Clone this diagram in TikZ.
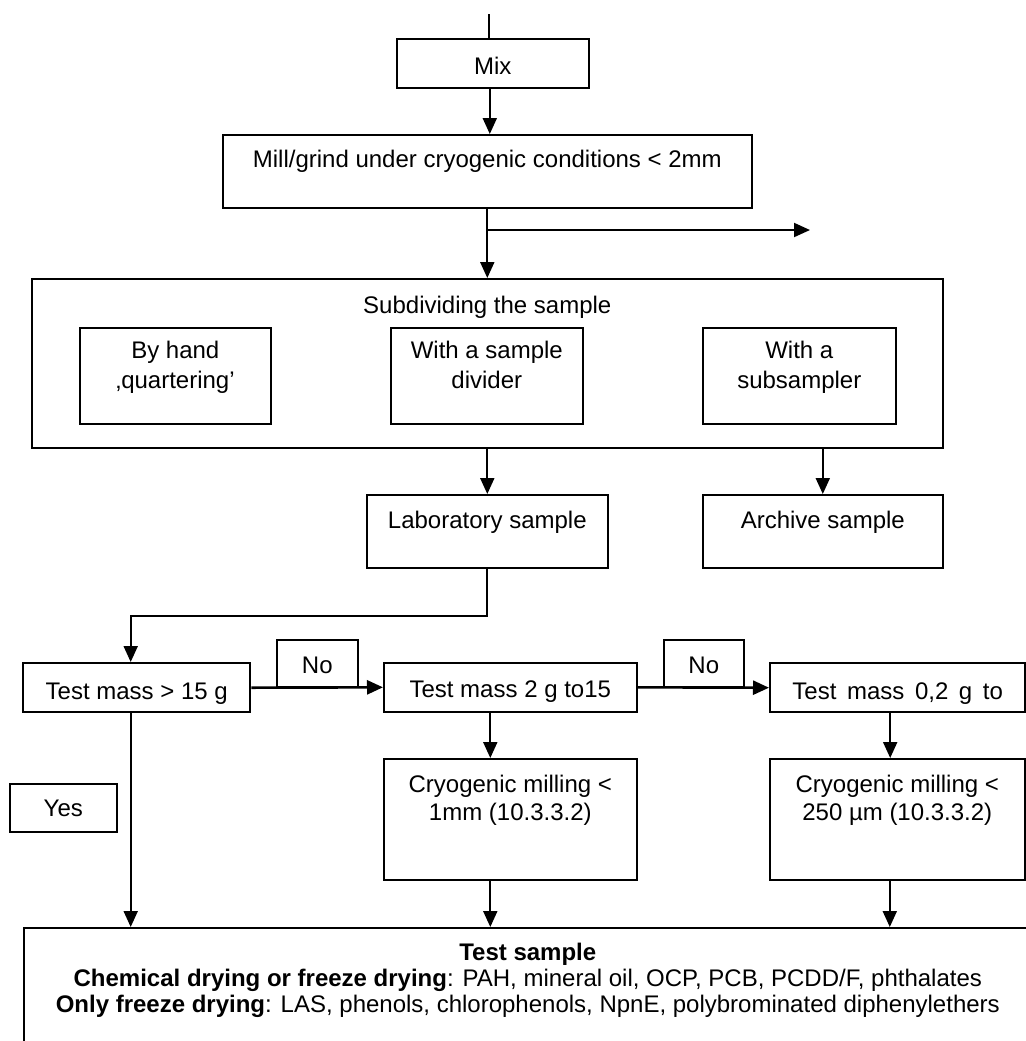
\documentclass[tikz,border=0pt]{standalone}
\usepackage{fontspec}
\setmainfont{Liberation Sans}
\usetikzlibrary{arrows.meta}
\tikzset{
    box/.style={draw, line width=0.8pt, inner sep=0pt, align=center, anchor=north west},
    massbox/.style={box, line width=1.2pt},
    arr/.style={-{Triangle[length=8pt,width=7pt]}, line width=1pt},
}
\begin{document}
\begin{tikzpicture}[x=0.5pt,y=-0.5pt,every node/.style={font=\fontsize{12pt}{14pt}\selectfont}]
            \useasboundingbox (0,0) rectangle (1026,1041);
            \clip (0,0) rectangle (1026,1041);
            \node[box, minimum width=96pt, text height=18pt, text depth=6.5pt] at (396,38) (mix) {Mix};
            \node[box, minimum width=264.5pt, text height=16.5pt, text depth=20pt] at (222,134) (mill) {Mill/grind under cryogenic conditions < 2mm};
            \node[box, minimum width=455.5pt, text height=17.5pt, text depth=67pt] at (31,278) (subdiv) {Subdividing the sample};
            % two-line boxes: text height runs to the last baseline
            \node[box, minimum width=95.5pt, text height=30.5pt, text depth=17.5pt, font=\fontsize{12pt}{15pt}\selectfont] at (79,327) (byhand) {By hand\\‚quartering’};
            \node[box, minimum width=96pt, text height=30.5pt, text depth=17.5pt, font=\fontsize{12pt}{15pt}\selectfont] at (390,327) (divider) {With a sample\\divider};
            \node[box, minimum width=96.5pt, text height=30.5pt, text depth=17.5pt, font=\fontsize{12pt}{15pt}\selectfont] at (702,327) (subsampler) {With a\\subsampler};
            \node[box, minimum width=120.5pt, text height=17pt, text depth=19.5pt] at (366,494) (lab) {Laboratory sample};
            \node[box, minimum width=120pt, text height=17pt, text depth=19.5pt] at (702,494) (archive) {Archive sample};
            \node[massbox, minimum width=113.5pt, text height=18pt, text depth=6.5pt] at (22,662) (mass15) {Test mass > 15 g};
            \node[box, minimum width=40.5pt, text height=17pt, text depth=6.5pt] at (276,639) (no1) {No};
            \node[box, minimum width=126.5pt, text height=17.5pt, text depth=7pt] at (383,662) (mass2) {Test mass 2 g to15};
            \node[box, minimum width=40pt, text height=17pt, text depth=6.5pt] at (663,639) (no2) {No};
            \node[massbox, minimum width=127.5pt, text height=18pt, text depth=6.5pt] at (769,662) (mass02) {{\spaceskip=5.3pt Test mass 0,2 g to}};
            \node[box, minimum width=126.5pt, text height=31pt, text depth=29.5pt] at (383,758) (cryo1) {Cryogenic milling <\\1mm (10.3.3.2)};
            \node[box, minimum width=127.5pt, text height=31pt, text depth=29.5pt] at (769,758) (cryo2) {Cryogenic milling <\\250 µm (10.3.3.2)};
            \node[box, minimum width=53.5pt, text height=16.5pt, text depth=7.5pt] at (9,783) (yes) {Yes};
            \node[box, minimum width=504pt, text height=42.5pt, text depth=24pt, font=\fontsize{12pt}{13pt}\selectfont] at (23,927) (testsample) {\textbf{Test sample}\\\textbf{Chemical drying or freeze drying}: PAH, mineral oil, OCP, PCB, PCDD/F, phthalates\\\textbf{Only freeze drying}: LAS, phenols, chlorophenols, NpnE, polybrominated diphenylethers};
            \coordinate (inlet) at (489,14);
            \coordinate (aside) at (810,230);
            \draw[line width=1pt] (inlet) -- (inlet |- mix.north);
            \draw[arr] ([xshift=-1.5pt]mix.south) -- ([xshift=-1.5pt]mix.south |- mill.north);
            \draw[arr] (mill.south) -- (subdiv.north);
            \draw[arr] (mill.south |- aside) -- (aside);
            \draw[arr] (subdiv.south -| lab.north) -- (lab.north);
            \draw[arr] (subdiv.south -| archive.north) -- (archive.north);
            \draw[arr] (lab.south) -- ++(0,47) -| ([xshift=-3pt]mass15.north);
            \draw[arr, line width=1.3pt] (mass15.east) -- (mass2.west);
            \draw[arr, line width=1.3pt] (mass2.east) -- (mass02.west);
            \draw[arr] ([xshift=-10pt]mass2.south) -- ([xshift=-10pt]mass2.south |- cryo1.north);
            \draw[arr] ([xshift=-3.75pt]mass02.south) -- ([xshift=-3.75pt]mass02.south |- cryo2.north);
            \draw[arr] ([xshift=-3pt]mass15.south) -- ([xshift=-3pt]mass15.south |- testsample.north);
            \draw[arr] ([xshift=-10pt]cryo1.south) -- ([xshift=-10pt]cryo1.south |- testsample.north);
            \draw[arr] ([xshift=-3.75pt]cryo2.south) -- ([xshift=-3.75pt]cryo2.south |- testsample.north);
        \end{tikzpicture}
\end{document}
